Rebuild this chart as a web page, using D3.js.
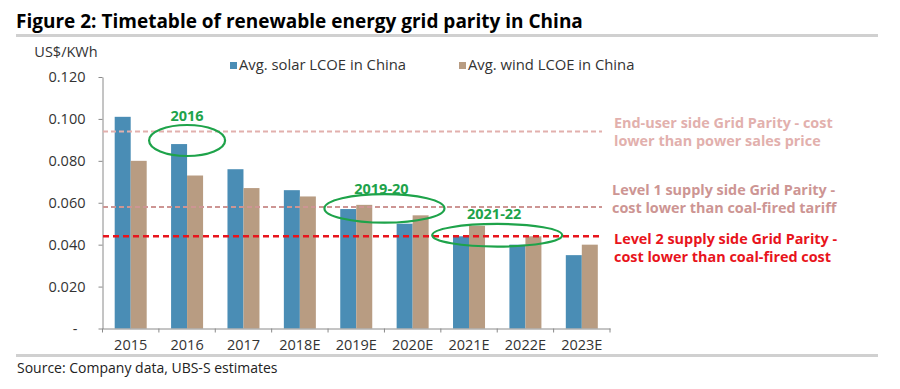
<!DOCTYPE html>
<html>
<head>
<meta charset="utf-8">
<script src="https://cdn.jsdelivr.net/npm/d3@7"></script>
<style>
  body { margin: 0; background: #fff; }
  svg { display: block; font-family: "Open Sans", sans-serif; }
</style>
</head>
<body>
<div id="chart"></div>
<script>
'use strict';

const categories = ["2015", "2016", "2017", "2018E", "2019E", "2020E", "2021E", "2022E", "2023E"];
const solarLcoe = [0.101, 0.088, 0.076, 0.066, 0.057, 0.050, 0.044, 0.040, 0.035];
const windLcoe = [0.080, 0.073, 0.067, 0.063, 0.059, 0.054, 0.049, 0.044, 0.040];
const seriesNames = ["Avg. solar LCOE in China", "Avg. wind LCOE in China"];
const yTicks = [0, 0.02, 0.04, 0.06, 0.08, 0.10, 0.12];

// parity thresholds (US$/KWh) and their labels
const parityValues = [0.094, 0.058, 0.044];
const parityLabels = [
    ["End-user side Grid Parity - cost", "lower than power sales price"],
    ["Level 1 supply side Grid Parity -", "cost lower than coal-fired tariff"],
    ["Level 2 supply side Grid Parity -", "cost lower than coal-fired cost"]
];

// green circled years: label, category where the ellipse is centred, value
const circleLabels = ["2016", "2019-20", "2021-22"];
const circleCats = ["2016", "2020E", "2022E"];
const circleValues = [0.0897, 0.0573, 0.0445];

const width = 900;
const height = 389;
const colors = ["#4a8db5", "#b89c82"];
const parityColors = ["#e2b0ad", "#cd9593", "#e8141c"];
const parityWidths = [2, 2, 2.5];
const green = "#1ea34a";
const labelSize = 14.5;

const svg = d3.select("#chart")
    .append("svg")
    .attr("width", width)
    .attr("height", height);

// title + rules
svg.append("text")
    .attr("x", 16)
    .attr("y", 28)
    .attr("font-size", 19)
    .attr("font-weight", "bold")
    .attr("fill", "#000")
    .text("Figure 2: Timetable of renewable energy grid parity in China");
svg.append("rect").attr("x", 16).attr("y", 34).attr("width", 862).attr("height", 3).attr("fill", "#d0d0d0");
svg.append("rect").attr("x", 16).attr("y", 354).attr("width", 862).attr("height", 3).attr("fill", "#d0d0d0");
svg.append("text")
    .attr("x", 17)
    .attr("y", 373)
    .attr("font-size", 14)
    .attr("fill", "#222")
    .text("Source: Company data, UBS-S estimates");

const x = d3.scaleBand().domain(categories).range([102.5, 610]);
const y = d3.scaleLinear().domain([0, 0.12]).range([328.5, 77]);
const pairW = 32;
const xs = d3.scaleBand().domain([0, 1]).range([0, pairW]);

// y axis
const yAxis = svg.append("g")
    .attr("transform", `translate(${x.range()[0]},0)`)
    .call(d3.axisLeft(y).tickValues(yTicks).tickSize(4).tickSizeOuter(0)
        .tickFormat(d => d === 0 ? "-" : d3.format(".3f")(d)));
yAxis.select(".domain").attr("stroke", "#8a8a8a");
yAxis.selectAll(".tick line").attr("stroke", "#8a8a8a");
yAxis.selectAll(".tick text")
    .attr("font-size", labelSize)
    .attr("fill", "#333")
    .attr("font-family", "Open Sans, sans-serif")
    .attr("x", d => d === 0 ? -25 : -17);

svg.append("text")
    .attr("x", 66)
    .attr("y", 57)
    .attr("text-anchor", "middle")
    .attr("font-size", labelSize)
    .attr("fill", "#333")
    .text("US$/KWh");

// bars
const groups = svg.append("g")
    .selectAll("g")
    .data(categories)
    .join("g")
    .attr("transform", d => `translate(${x(d) + (x.bandwidth() - pairW) / 2},0)`);
groups.selectAll("rect")
    .data((d, i) => [solarLcoe[i], windLcoe[i]])
    .join("rect")
    .attr("x", (d, j) => xs(j))
    .attr("width", xs.bandwidth())
    .attr("y", d => y(d))
    .attr("height", d => y(0) - y(d))
    .attr("fill", (d, j) => colors[j]);

// x axis
const xAxis = svg.append("g")
    .attr("transform", `translate(0,${y(0)})`)
    .call(d3.axisBottom(x).tickSize(0).tickPadding(11));
xAxis.select(".domain").attr("stroke", "#8a8a8a");
xAxis.selectAll(".tick text")
    .attr("font-size", labelSize)
    .attr("fill", "#333")
    .attr("font-family", "Open Sans, sans-serif");
xAxis.selectAll(".sep")
    .data(d3.range(categories.length + 1))
    .join("line")
    .attr("class", "sep")
    .attr("x1", i => x.range()[0] + i * x.step())
    .attr("x2", i => x.range()[0] + i * x.step())
    .attr("y1", 0)
    .attr("y2", 4)
    .attr("stroke", "#8a8a8a");

// parity lines
svg.append("g")
    .selectAll("line")
    .data(parityValues)
    .join("line")
    .attr("x1", 103)
    .attr("x2", 602)
    .attr("y1", d => y(d))
    .attr("y2", d => y(d))
    .attr("stroke", (d, i) => parityColors[i])
    .attr("stroke-width", (d, i) => parityWidths[i])
    .attr("stroke-dasharray", (d, i) => i === 2 ? "6,4" : "5,3");

const labelY = [123, 190, 239];
const labelX = [614, 612, 614];
parityLabels.forEach((lines, i) => {
    svg.append("text")
        .attr("x", labelX[i])
        .attr("y", labelY[i] + 5)
        .attr("font-size", 14.4)
        .attr("font-weight", "bold")
        .attr("fill", parityColors[i])
        .selectAll("tspan")
        .data(lines)
        .join("tspan")
        .attr("x", labelX[i])
        .attr("dy", (d, k) => k === 0 ? 0 : 17.5)
        .text(d => d);
});

// green ellipses
const ellR = [[38, 15.5], [60, 14.3], [65, 11.3]];
const ellDx = [0, -x.step() / 2, -x.step() / 2];
const ellLabelDy = [-25, -19, -21];
circleLabels.forEach((lab, i) => {
    const cx = x(circleCats[i]) + x.bandwidth() / 2 + ellDx[i];
    const cy = y(circleValues[i]);
    svg.append("ellipse")
        .attr("cx", cx)
        .attr("cy", cy)
        .attr("rx", ellR[i][0])
        .attr("ry", ellR[i][1])
        .attr("fill", "none")
        .attr("stroke", green)
        .attr("stroke-width", 2.2);
    svg.append("text")
        .attr("x", cx - (i === 0 ? 0 : 3))
        .attr("y", cy + ellLabelDy[i] + 5)
        .attr("text-anchor", "middle")
        .attr("font-size", 14.5)
        .attr("font-weight", "bold")
        .attr("fill", green)
        .text(lab);
});

// legend
const legendX = [230, 459];
seriesNames.forEach((name, i) => {
    svg.append("rect")
        .attr("x", legendX[i])
        .attr("y", 62)
        .attr("width", 7)
        .attr("height", 7)
        .attr("fill", colors[i]);
    svg.append("text")
        .attr("x", legendX[i] + 9)
        .attr("y", 70)
        .attr("font-size", 14.8)
        .attr("fill", "#333")
        .text(name);
});
</script>
</body>
</html>
